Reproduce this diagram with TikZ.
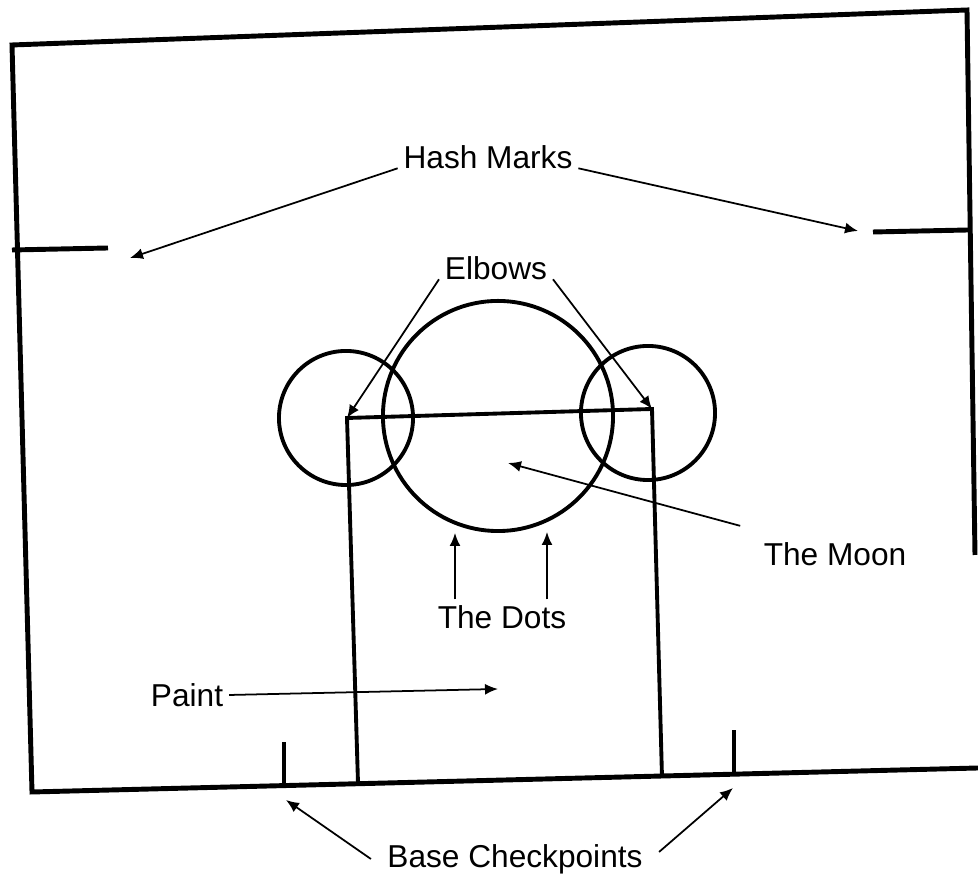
\documentclass[tikz,border=0pt]{standalone}
\usepackage{fontspec}
\setmainfont{Liberation Sans}
\usetikzlibrary{arrows.meta}

\tikzset{
  court/.style={line width=1.4pt},
  ring/.style={line width=1.1pt},
  lead/.style={line width=0.5pt,-{Latex[length=1.3mm,width=1.1mm]}},
  tag/.style={font=\fontsize{9}{11}\selectfont,inner sep=1.5pt}
}

\begin{document}
\begin{tikzpicture}[x=0.01cm,y=-0.01cm]
\useasboundingbox (0,0) rectangle (978,880);

% Court corners
\coordinate (tl) at (12,45);
\coordinate (tr) at (967,10);
\coordinate (rt) at (975,555);
\coordinate (bl) at (32,792);
\coordinate (br) at (978,768);

% Court outline
\draw[court,line join=miter] (rt) -- (tr) -- (tl) -- (bl) -- (br);

% Hash marks
\coordinate (hl1) at (12,250);
\coordinate (hl2) at (108,248);
\coordinate (hr1) at (873,232);
\coordinate (hr2) at (968,230);
\draw[court] (hl1) -- (hl2);
\draw[court] (hr1) -- (hr2);

% Base checkpoints
\coordinate (cl) at (284,786);
\coordinate (cr) at (734,773);
\draw[ring] (cl) -- ++(0,-44);
\draw[ring] (cr) -- ++(0,-43);

% Paint
\coordinate (p1) at (358,783);
\coordinate (p2) at (347,418);
\coordinate (p3) at (652,409);
\coordinate (p4) at (662,777);
\draw[ring] (p1) -- (p2) -- (p3) -- (p4);

% Elbows and the moon
\draw[ring] (346,418) circle[radius=0.67cm];
\draw[ring] (648,413) circle[radius=0.67cm];
\draw[ring] (498,416) circle[radius=1.15cm];

% Labels
\node[tag] (hash)  at (488,157) {Hash Marks};
\node[tag] (elb)   at (496,268) {Elbows};
\node[tag] (moon)  at (835,554) {The Moon};
\node[tag] (dots)  at (502,617) {The Dots};
\node[tag] (paint) at (187,695) {Paint};
\node[tag] (base)  at (515,859) {Base Checkpoints};

% Arrow targets
\coordinate (hashL) at (130,258);
\coordinate (hashR) at (858,231);
\coordinate (moonC) at (508,463);
\coordinate (dotL)  at (455,533);
\coordinate (dotR)  at (547,532);
\coordinate (mid)   at (498,689);
\coordinate (baseL) at (286,800);
\coordinate (baseR) at (733,788);

% Leaders
\draw[lead] (hash.base west) -- (hashL);
\draw[lead] (hash.base east) -- (hashR);
\draw[lead] (elb.base west) -- (p2);
\draw[lead] (elb.base east) -- (p3);
\draw[lead] ([xshift=-5pt,yshift=3pt]moon.north west) -- (moonC);
\draw[lead] (dotL |- dots.north) -- (dotL);
\draw[lead] (dotR |- dots.north) -- (dotR);
\draw[lead] (paint.east) -- (mid);
\draw[lead] ([xshift=-3pt]base.west) -- (baseL);
\draw[lead] ([xshift=3pt,yshift=2pt]base.east) -- (baseR);

\end{tikzpicture}
\end{document}
